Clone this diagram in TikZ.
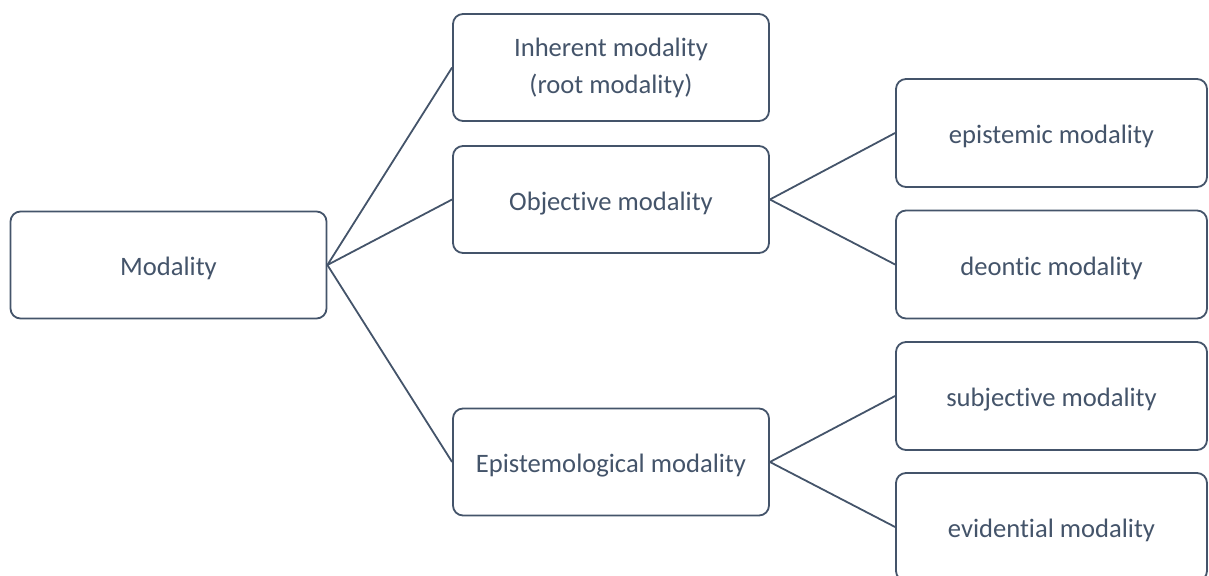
\documentclass[tikz,border=0pt]{standalone}
\usepackage{fontspec}
\setmainfont{Carlito}[RawFeature={-liga;-clig}]
\definecolor{boxline}{HTML}{44546A}
\definecolor{boxtext}{HTML}{44546A}
\begin{document}
\begin{tikzpicture}[x=0.5pt,y=-0.5pt,
  mbox/.style={draw=boxline, line width=0.9pt, rounded corners=5pt, fill=white,
    text=boxtext, align=center, inner sep=0pt,
    font=\fontsize{13.3}{18.5}\selectfont,
    execute at begin node={\rule{0pt}{12.8pt}}},
  wideb/.style={mbox, minimum width=158pt, minimum height=53.5pt},
  rightb/.style={mbox, minimum width=155.5pt, minimum height=54pt},
  conn/.style={draw=boxline, line width=0.9pt}]
\useasboundingbox (0,0) rectangle (1209,576);
\clip (0,0) rectangle (1209,576);
\node[wideb] (mod) at (168.5,265) {Modality};
\node[wideb] (inh) at (611,67.5) {Inherent modality\\(root modality)};
\node[wideb] (obj) at (611,199.5) {Objective modality};
\node[wideb] (epl) at (611,462) {Epistemological modality};
\node[rightb] (eps) at (1051.5,133) {epistemic modality};
\node[rightb] (deo) at (1051.5,264.5) {deontic modality};
\node[rightb] (sub) at (1051.5,396) {subjective modality};
\node[rightb] (evi) at (1051.5,527) {evidential modality};
\draw[conn] (mod.east) -- (inh.west);
\draw[conn] (mod.east) -- (obj.west);
\draw[conn] (mod.east) -- (epl.west);
\draw[conn] (obj.east) -- (eps.west);
\draw[conn] (obj.east) -- (deo.west);
\draw[conn] (epl.east) -- (sub.west);
\draw[conn] (epl.east) -- (evi.west);
\end{tikzpicture}
\end{document}
